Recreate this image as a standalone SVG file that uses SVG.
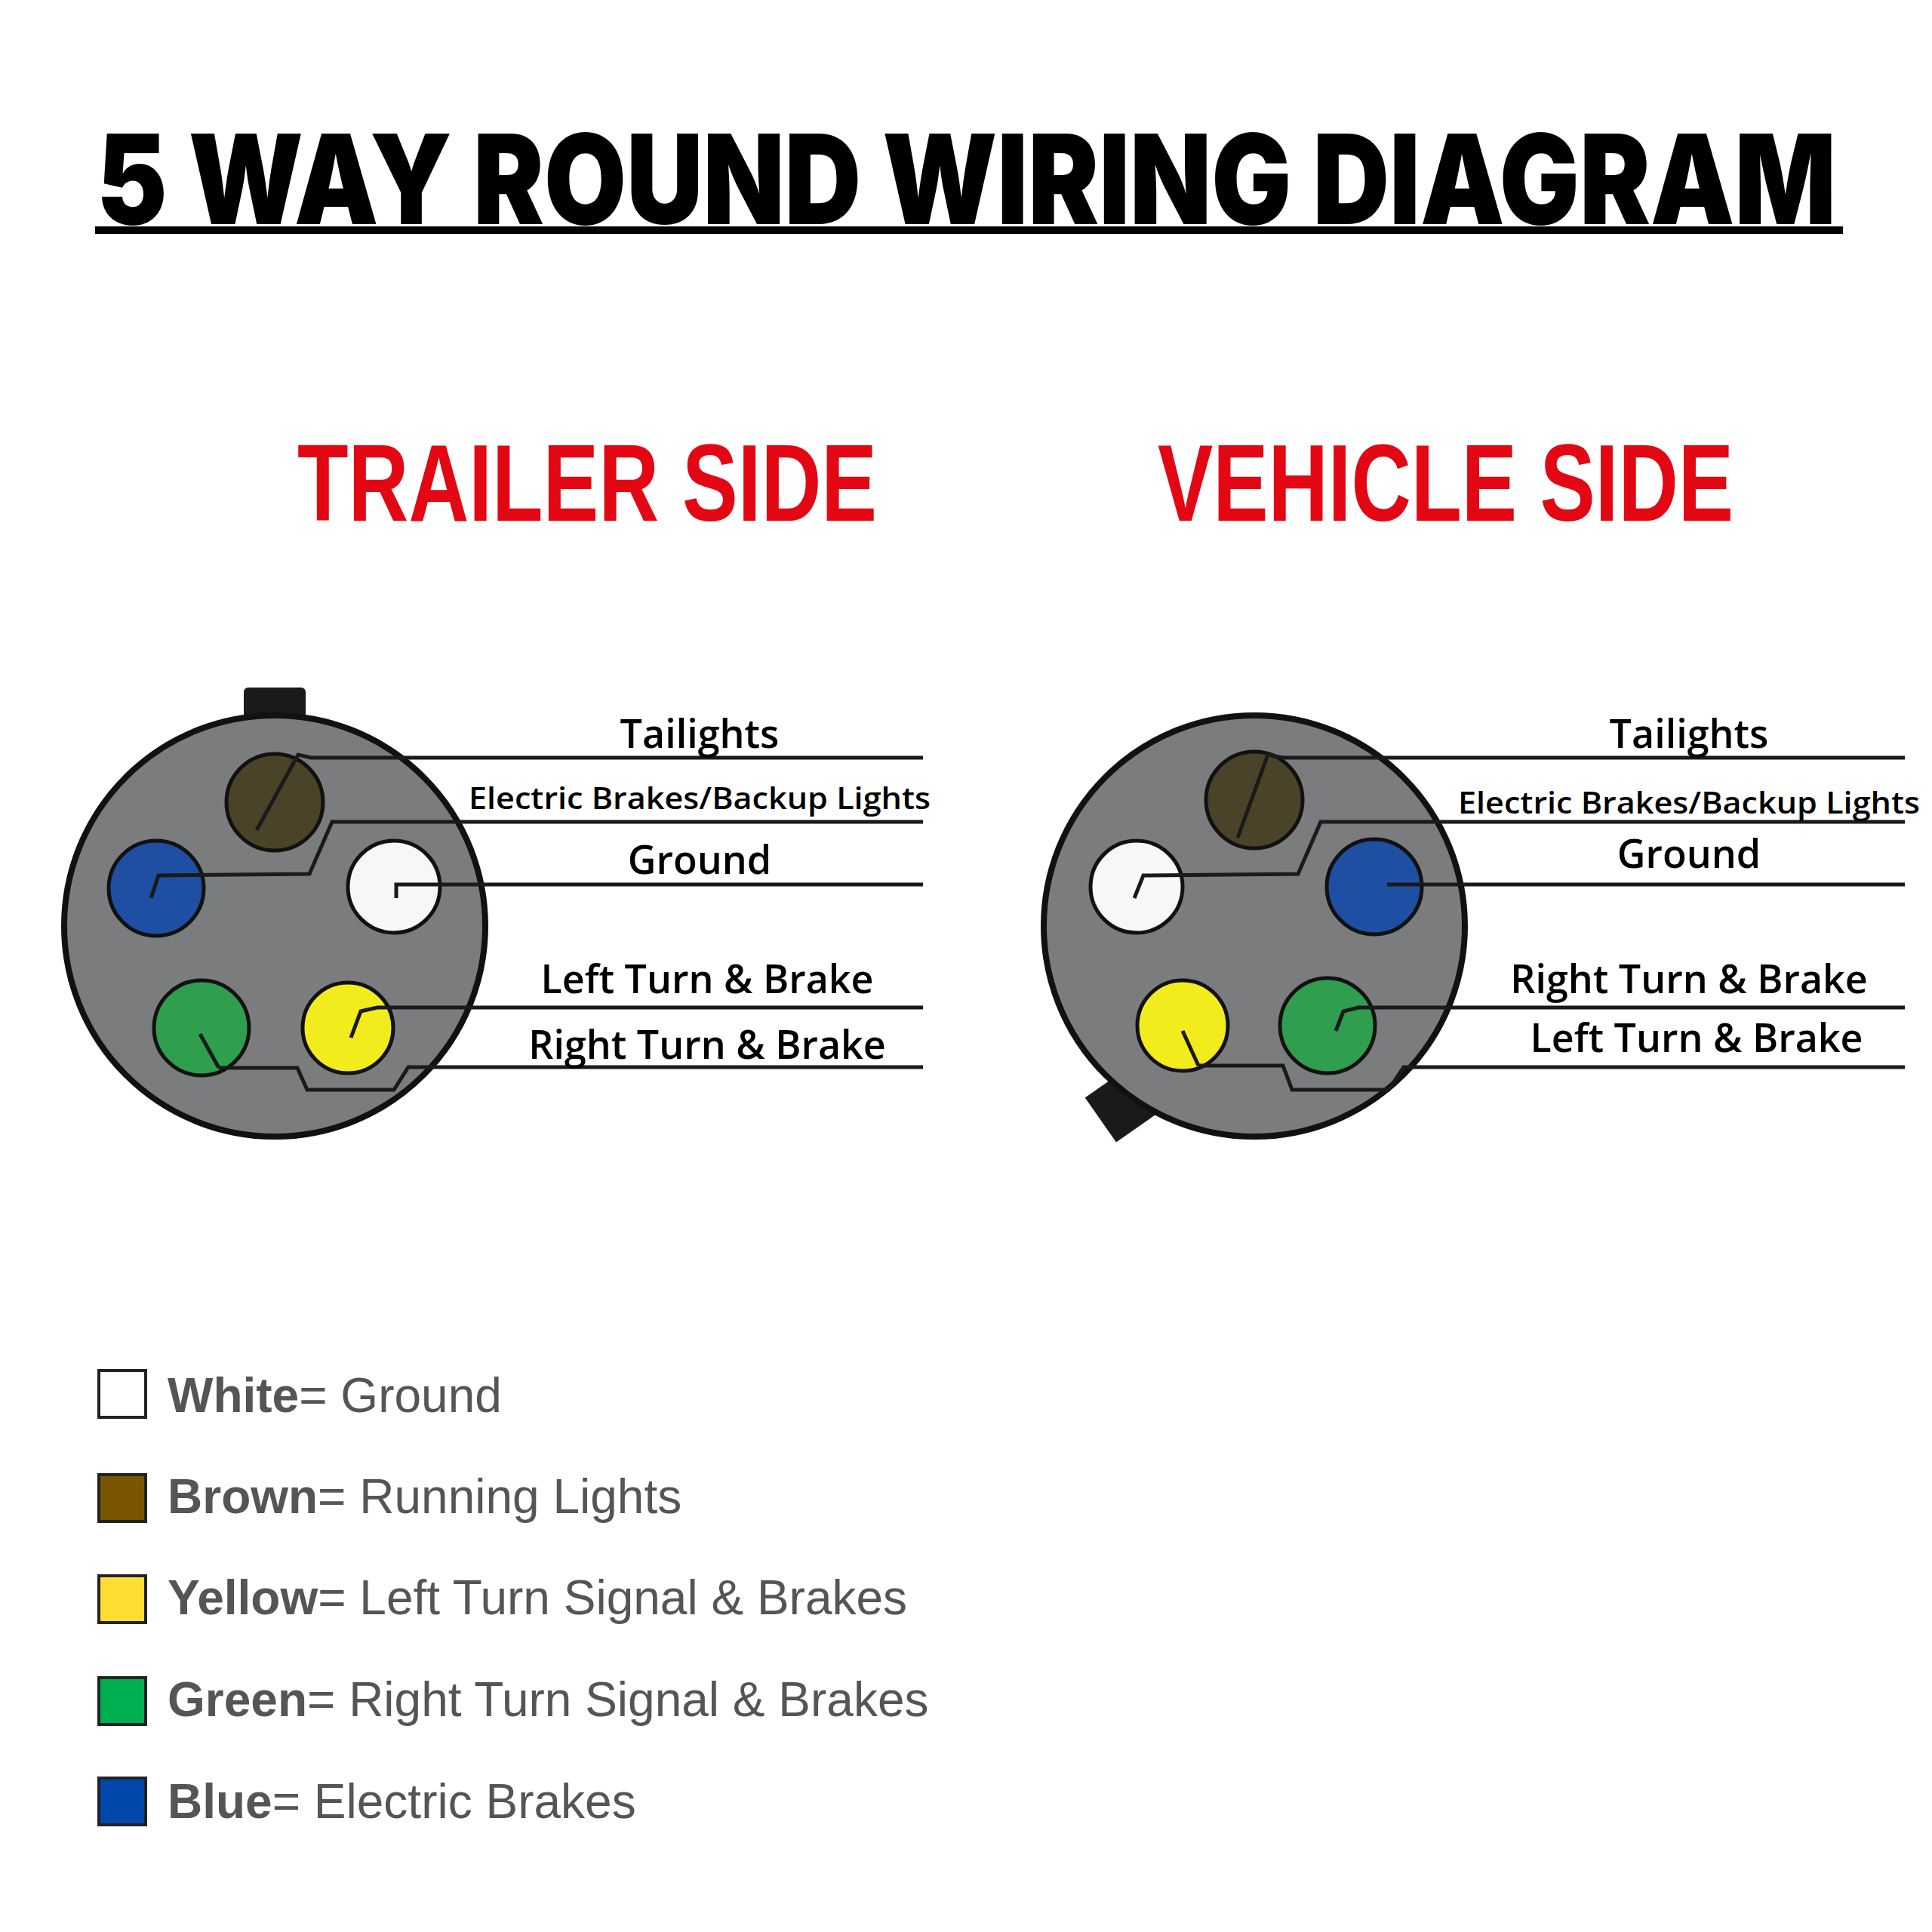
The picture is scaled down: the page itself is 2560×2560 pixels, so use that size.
<svg xmlns="http://www.w3.org/2000/svg" width="2560" height="2560" viewBox="0 0 2560 2560">
<style>
.body{fill:#7b7c7e;stroke:#111;stroke-width:8}
.pin{stroke:#111;stroke-width:5}
.w{fill:none;stroke:#1a1a1a;stroke-width:5}
.lbl{font-family:"Open Sans","Noto Sans",sans-serif;font-weight:600;fill:#000;text-anchor:middle}
.side{font-family:"Liberation Sans",sans-serif;font-weight:bold;fill:#E30613}
.leg{font-family:"Liberation Sans",Arial,sans-serif;font-size:64px;fill:#555}
.sq{stroke:#222;stroke-width:4}
</style>
<rect width="2560" height="2560" fill="#fff"/>
<text x="128" y="297" font-family="Inter,'Liberation Sans',sans-serif" font-weight="900" font-size="165" textLength="2305" lengthAdjust="spacingAndGlyphs">5 WAY ROUND WIRING DIAGRAM</text>
<rect x="126" y="300" width="2316" height="10" fill="#000"/>
<text class="side" x="394" y="690" font-size="145" textLength="768" lengthAdjust="spacingAndGlyphs">TRAILER SIDE</text>
<text class="side" x="1534" y="690" font-size="145" textLength="763" lengthAdjust="spacingAndGlyphs">VEHICLE SIDE</text>

<g id="trailer">
<rect x="323" y="911" width="82" height="60" rx="6" fill="#1a1a1a"/>
<circle class="body" cx="364" cy="1227" r="279"/>
<circle class="pin" cx="364" cy="1063" r="64" fill="#4a4328"/>
<circle class="pin" cx="207" cy="1177" r="63" fill="#1f4fa3"/>
<circle class="pin" cx="522" cy="1175" r="61" fill="#f7f7f7"/>
<circle class="pin" cx="267" cy="1362" r="63" fill="#2f9e4f"/>
<circle class="pin" cx="461" cy="1362" r="60" fill="#f3ec1d"/>
</g>
<g id="vehicle">
<rect x="1452" y="1428" width="70" height="72" fill="#1a1a1a" transform="rotate(-35 1487 1464)"/>
<circle class="body" cx="1662" cy="1227" r="279"/>
<circle class="pin" cx="1662" cy="1060" r="64" fill="#4a4328"/>
<circle class="pin" cx="1506" cy="1175" r="61" fill="#f7f7f7"/>
<circle class="pin" cx="1821" cy="1175" r="63" fill="#1f4fa3"/>
<circle class="pin" cx="1567" cy="1359" r="60" fill="#f3ec1d"/>
<circle class="pin" cx="1759" cy="1359" r="63" fill="#2f9e4f"/>
</g>
<g id="connectors">
<path class="w" d="M340 1100 L395 1000 L412 1004 H1223"/>
<path class="w" d="M200 1190 L210 1160 L410 1158 L440 1089 H1223"/>
<path class="w" d="M525 1190 V1172 H1223"/>
<path class="w" d="M465 1375 L478 1340 L500 1335 H1223"/>
<path class="w" d="M290 1415 L265 1370 M290 1415 H394 L407 1444 H522 L541 1414 H1223"/>
<path class="w" d="M1640 1110 L1680 1000 L1700 1004 H2524"/>
<path class="w" d="M1503 1190 L1515 1160 L1720 1158 L1750 1089 H2524"/>
<path class="w" d="M1838 1172 H2524"/>
<path class="w" d="M1770 1366 L1780 1340 L1800 1335 H2524"/>
<path class="w" d="M1588 1412 L1567 1366 M1588 1412 H1700 L1712 1444 H1840 L1860 1414 H2524"/>
</g>
<g id="labels">
<text class="lbl" x="927" y="991" font-size="52">Tailights</text>
<text class="lbl" x="927" y="1072" font-size="40" textLength="612" lengthAdjust="spacingAndGlyphs">Electric Brakes/Backup Lights</text>
<text class="lbl" x="927" y="1158" font-size="52">Ground</text>
<text class="lbl" x="937" y="1316" font-size="52">Left Turn &amp; Brake</text>
<text class="lbl" x="937" y="1403" font-size="52">Right Turn &amp; Brake</text>
<text class="lbl" x="2238" y="991" font-size="52">Tailights</text>
<text class="lbl" x="2238" y="1078" font-size="40" textLength="612" lengthAdjust="spacingAndGlyphs">Electric Brakes/Backup Lights</text>
<text class="lbl" x="2238" y="1150" font-size="52">Ground</text>
<text class="lbl" x="2238" y="1316" font-size="52">Right Turn &amp; Brake</text>
<text class="lbl" x="2248" y="1394" font-size="52">Left Turn &amp; Brake</text>
</g>
<g id="legend">
<rect class="sq" x="131" y="1816" width="62" height="62" fill="#fff"/>
<rect class="sq" x="131" y="1954" width="62" height="62" fill="#7a5500"/>
<rect class="sq" x="131" y="2088" width="62" height="62" fill="#FFDE33"/>
<rect class="sq" x="131" y="2223" width="62" height="62" fill="#00B050"/>
<rect class="sq" x="131" y="2356" width="62" height="62" fill="#0047AB"/>
<text class="leg" x="222" y="1871"><tspan font-weight="bold">White</tspan>= Ground</text>
<text class="leg" x="222" y="2005"><tspan font-weight="bold">Brown</tspan>= Running Lights</text>
<text class="leg" x="222" y="2139"><tspan font-weight="bold">Yellow</tspan>= Left Turn Signal &amp; Brakes</text>
<text class="leg" x="222" y="2274"><tspan font-weight="bold">Green</tspan>= Right Turn Signal &amp; Brakes</text>
<text class="leg" x="222" y="2409"><tspan font-weight="bold">Blue</tspan>= Electric Brakes</text>
</g>
</svg>
